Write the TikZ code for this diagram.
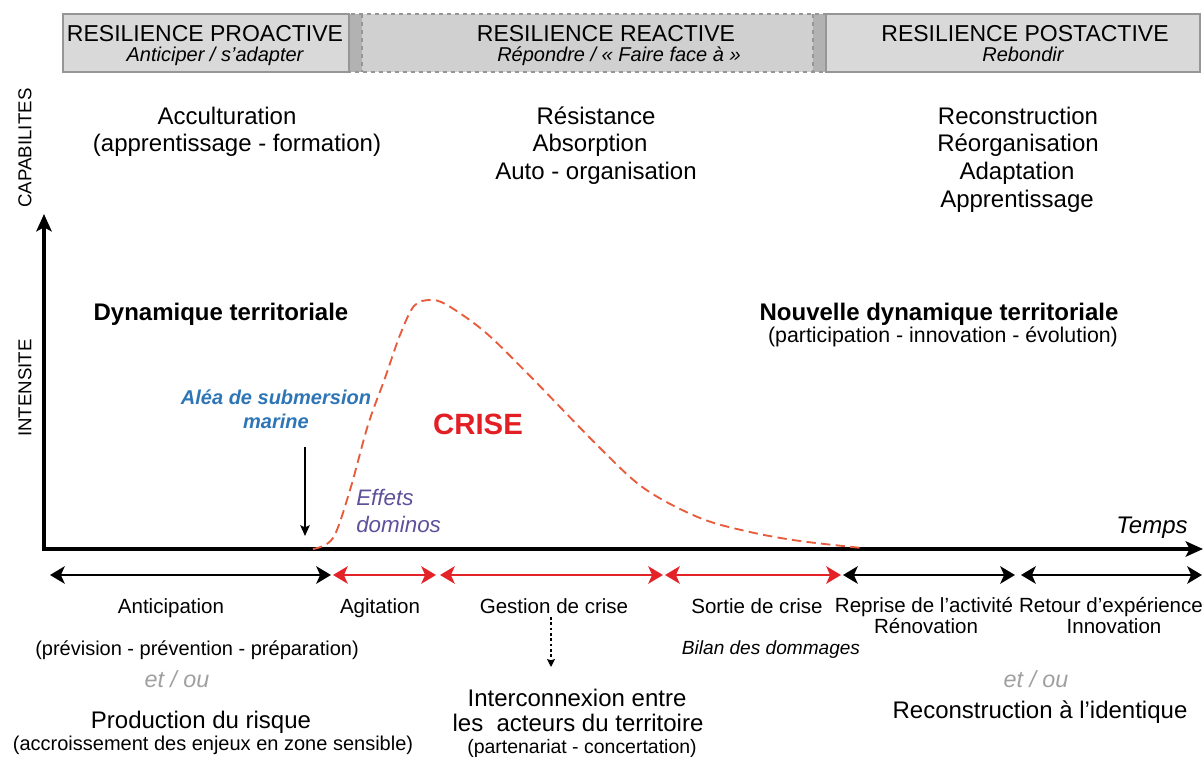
\documentclass[tikz,border=0pt]{standalone}
\usepackage{fontspec}
\setmainfont{Liberation Sans}
\usetikzlibrary{arrows.meta}
\definecolor{boxfillA}{RGB}{217,217,217}
\definecolor{boxfillB}{RGB}{208,208,208}
\definecolor{stripgray}{RGB}{178,178,178}
\definecolor{boxline}{RGB}{150,150,150}
\definecolor{aleablue}{RGB}{46,117,182}
\definecolor{crisered}{RGB}{227,30,36}
\definecolor{arrred}{RGB}{228,35,40}
\definecolor{domino}{RGB}{95,80,155}
\definecolor{curvecol}{RGB}{232,92,60}
\definecolor{etgray}{RGB}{160,160,160}
\tikzset{
  ptip/.tip={Stealth[length=11pt, width=13pt, inset=2.8pt]},
  atip/.tip={Stealth[length=13pt, width=11.5pt, inset=3pt]}
}
\begin{document}
\begin{tikzpicture}[x=0.75pt,y=-0.75pt,
  txt/.style={inner sep=0pt, anchor=base},
  ttl/.style={txt, font=\fontsize{17.25}{20}\selectfont},
  subt/.style={txt, font=\fontsize{15}{18}\selectfont\itshape},
  capab/.style={txt, font=\fontsize{18}{21}\selectfont},
  dyn/.style={txt, font=\fontsize{18}{21}\selectfont\bfseries},
  phase/.style={txt, font=\fontsize{15.4}{18}\selectfont},
  small/.style={txt, font=\fontsize{15}{18}\selectfont},
  big/.style={txt, font=\fontsize{18}{21}\selectfont},
  etou/.style={txt, font=\fontsize{17.5}{21}\selectfont\itshape, text=etgray},
  axislab/.style={inner sep=0pt, font=\fontsize{14}{16}\selectfont, rotate=90},
  axisline/.style={line width=2.8pt, line join=miter},
  blackarr/.style={line width=2.2pt, ptip-ptip},
  redarr/.style={line width=2.2pt, draw=arrred, ptip-ptip},
  crisecurve/.style={draw=curvecol, line width=1.4pt, dash pattern=on 7pt off 4pt},
  hbox/.style={draw=boxline, line width=0.9pt}
]
\useasboundingbox (0,0) rectangle (1204,761);

% ---------- header bands ----------
\fill[boxfillB] (349,14) rectangle (826,72);
\fill[stripgray] (349,14) rectangle (362,72);
\fill[stripgray] (813,14) rectangle (826,72);
\draw[hbox, dashed] (349,14) rectangle (826,72);
\draw[hbox, dashed] (362,14) -- (362,72);
\draw[hbox, dashed] (813,14) -- (813,72);
\draw[hbox, fill=boxfillA] (63,14) rectangle (349,72);
\draw[hbox, fill=boxfillA] (826,14) rectangle (1200,72);

\node[ttl]  (tpro)  at (205,41) {RESILIENCE PROACTIVE};
\node[subt] (spro)  at (215,61) {Anticiper / s’adapter};
\node[ttl]  (trea)  at (606,41) {RESILIENCE REACTIVE};
\node[subt] (srea)  at (619,61) {Répondre / « Faire face à »};
\node[ttl]  (tpost) at (1025,41) {RESILIENCE POSTACTIVE};
\node[subt] (spost) at (1023,61) {Rebondir};

% ---------- capabilities ----------
\node[capab] (c1a) at (227,124) {Acculturation};
\node[capab] (c1b) at (237,151) {(apprentissage - formation)};
\node[capab] (c2a) at (596,124) {Résistance};
\node[capab] (c2b) at (590,151) {Absorption};
\node[capab] (c2c) at (596,179) {Auto - organisation};
\node[capab] (c3a) at (1018,124) {Reconstruction};
\node[capab] (c3b) at (1018,151) {Réorganisation};
\node[capab] (c3c) at (1017,179) {Adaptation};
\node[capab] (c3d) at (1017,207) {Apprentissage};

% ---------- axes ----------
\coordinate (O) at (44,549);
\coordinate (ytop) at (44,214);
\coordinate (xend) at (1203,549);
\draw[axisline, atip-atip] (ytop) -- (O) -- (xend);
\node[axislab] (capabilites) at (25,148) {CAPABILITES};
\node[axislab] (intensite) at (25,388) {INTENSITE};
\node[txt, font=\fontsize{18}{21}\selectfont\itshape] (temps) at (1152,533) {Temps};

% ---------- dynamics ----------
\node[dyn] (dyn1) at (221,320) {Dynamique territoriale};
\node[dyn] (dyn2) at (939,320) {Nouvelle dynamique territoriale};
\node[txt, font=\fontsize{16}{19}\selectfont] (dyn2b) at (943,342) {(participation - innovation - évolution)};

% ---------- crisis curve ----------
\draw[crisecurve] plot[smooth, tension=0.55] coordinates {
  (313,549) (333,538) (350,490) (368,425) (385,378) (400,335) (414,306) (430,300) (447,305)
  (485,332) (530,376) (600,448) (645,489) (700,518) (750,532) (800,541) (862,548)};

\node[txt, font=\fontsize{22}{26}\selectfont\bfseries, text=crisered] (crise) at (478,434) {CRISE};
\node[txt, anchor=base west, font=\fontsize{16.8}{20}\selectfont\itshape, text=domino] (eff1) at (356,505) {Effets};
\node[txt, anchor=base west, font=\fontsize{16.8}{20}\selectfont\itshape, text=domino] (eff2) at (356,532) {dominos};

% ---------- alea ----------
\node[txt, font=\fontsize{15}{18}\selectfont\bfseries\itshape, text=aleablue] (alea1) at (276,404) {Aléa de submersion};
\node[txt, font=\fontsize{15}{18}\selectfont\bfseries\itshape, text=aleablue] (alea2) at (276,428) {marine};
\coordinate (aleaTop) at (305,447);
\coordinate (aleaBot) at (305,536);
\draw[line width=1.5pt, -{Stealth[length=8pt, width=7pt, inset=1.5pt]}] (aleaTop) -- (aleaBot);

% ---------- phase arrows ----------
\coordinate (p0) at (50,575);
\coordinate (p1) at (331,575);
\coordinate (p2) at (333,575);
\coordinate (p3) at (436,575);
\coordinate (p4) at (440,575);
\coordinate (p5) at (663,575);
\coordinate (p6) at (665,575);
\coordinate (p7) at (841,575);
\coordinate (p8) at (843,575);
\coordinate (p9) at (1015,575);
\coordinate (p10) at (1021,575);
\coordinate (p11) at (1202,575);
\draw[blackarr] (p0) -- (p1);
\draw[redarr] (p2) -- (p3);
\draw[redarr] (p4) -- (p5);
\draw[redarr] (p6) -- (p7);
\draw[blackarr] (p8) -- (p9);
\draw[blackarr] (p10) -- (p11);

\node[phase] (anticip) at (171,613) {Anticipation};
\node[phase] (agit) at (380,613) {Agitation};
\node[phase] (gest) at (554,613) {Gestion de crise};
\node[phase] (sortie) at (757,613) {Sortie de crise};
\node[phase] (reprise) at (924,612) {Reprise de l’activité};
\node[phase] (renov) at (926,633) {Rénovation};
\node[phase] (retour) at (1111,612) {Retour d’expérience};
\node[phase] (innov) at (1114,633) {Innovation};

% ---------- bottom texts ----------
\node[small] (prev) at (197,655) {(prévision - prévention - préparation)};
\node[etou] (etou1) at (177,687) {et / ou};
\node[big] (prod) at (201,728) {Production du risque};
\node[small] (accr) at (213,750) {(accroissement des enjeux en zone sensible)};

\node[txt, font=\fontsize{14.3}{17}\selectfont\itshape] (bilan) at (771,654) {Bilan des dommages};

\coordinate (dotTop) at (551,617);
\coordinate (dotBot) at (551,667);
\draw[line width=1.3pt, dash pattern=on 2pt off 2pt, -{Stealth[length=6pt, width=6pt, inset=1pt]}] (dotTop) -- (dotBot);

\node[big] (inter1) at (577,706) {Interconnexion entre};
\node[big] (inter2) at (578,731) {les~ acteurs du territoire};
\node[txt, font=\fontsize{14.6}{17}\selectfont] (inter3) at (582,753) {(partenariat - concertation)};

\node[etou] (etou2) at (1036,687) {et / ou};
\node[big] (recon) at (1040,718) {Reconstruction à l’identique};
\end{tikzpicture}
\end{document}
